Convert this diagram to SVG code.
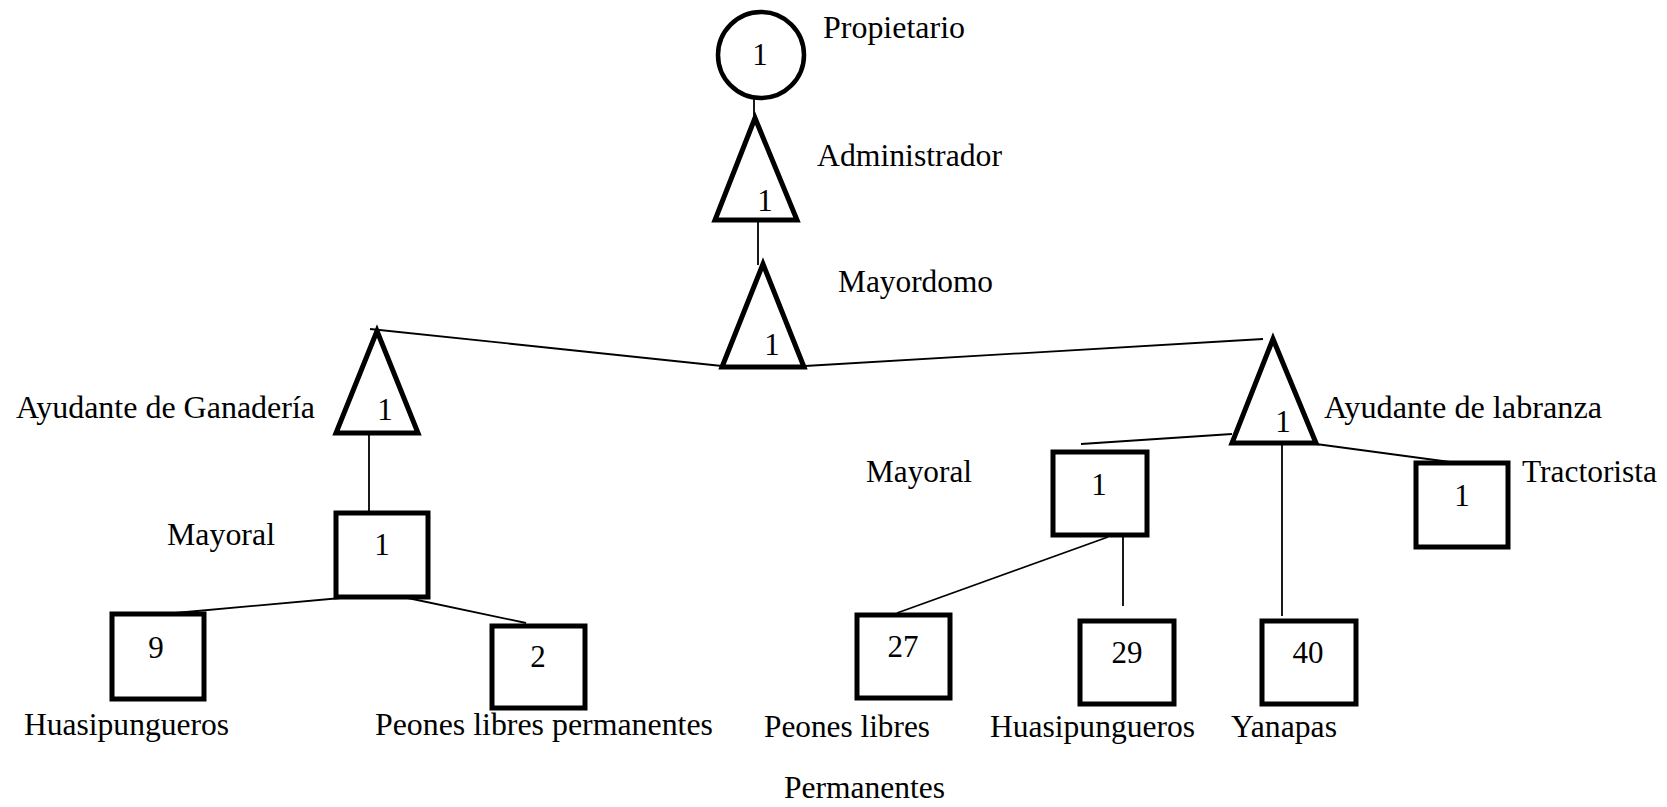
<svg xmlns="http://www.w3.org/2000/svg" width="1667" height="807" viewBox="0 0 1667 807">
<style>
.shape{fill:#fff;stroke:#000;stroke-width:5;stroke-linejoin:miter}
.circ{fill:#fff;stroke:#000;stroke-width:4.5}
.ln{stroke:#000;stroke-width:1.8;fill:none}
.lbl{font-family:"Liberation Serif","Times New Roman",serif;font-size:31px;fill:#000}
.num{font-family:"Liberation Serif","Times New Roman",serif;font-size:31px;fill:#000;text-anchor:middle}
</style>
<rect width="1667" height="807" fill="#fff"/>
<g id="connectors">
<line class="ln" x1="754" y1="99" x2="754" y2="118"/>
<line class="ln" x1="758" y1="220" x2="758" y2="265"/>
<line class="ln" x1="370" y1="329" x2="722" y2="366"/>
<line class="ln" x1="805" y1="366" x2="1263" y2="339"/>
<line class="ln" x1="369" y1="433" x2="369" y2="513"/>
<line class="ln" x1="352" y1="597" x2="175" y2="613"/>
<line class="ln" x1="403" y1="597" x2="526" y2="623"/>
<line class="ln" x1="1232" y1="434" x2="1081" y2="444"/>
<line class="ln" x1="1108" y1="537" x2="897" y2="613"/>
<line class="ln" x1="1123" y1="531" x2="1123" y2="606"/>
<line class="ln" x1="1282" y1="443" x2="1282" y2="616"/>
<line class="ln" x1="1316" y1="444" x2="1450" y2="462"/>
</g>
<g id="propietario">
<circle class="circ" cx="761" cy="55" r="43"/>
<text class="num" x="760" y="65">1</text>
<text class="lbl" x="823" y="38" textLength="142" lengthAdjust="spacingAndGlyphs">Propietario</text>
</g>
<g id="administrador">
<polygon class="shape" points="755,118 715,220 797,220"/>
<text class="num" x="765" y="211">1</text>
<text class="lbl" x="817" y="166" textLength="185" lengthAdjust="spacingAndGlyphs">Administrador</text>
</g>
<g id="mayordomo">
<polygon class="shape" points="763,264 722,367 804,367"/>
<text class="num" x="772" y="355">1</text>
<text class="lbl" x="838" y="292" textLength="155" lengthAdjust="spacingAndGlyphs">Mayordomo</text>
</g>
<g id="ayudante-ganaderia">
<polygon class="shape" points="377,331 336,433 418,433"/>
<text class="num" x="385" y="420">1</text>
<text class="lbl" x="16" y="418" textLength="299" lengthAdjust="spacingAndGlyphs">Ayudante de Ganadería</text>
</g>
<g id="mayoral-ganaderia">
<rect class="shape" x="336" y="513" width="92" height="84"/>
<text class="num" x="382" y="555">1</text>
<text class="lbl" x="167" y="545" textLength="108" lengthAdjust="spacingAndGlyphs">Mayoral</text>
</g>
<g id="huasipungueros-ganaderia">
<rect class="shape" x="112" y="614" width="92" height="85"/>
<text class="num" x="156" y="658">9</text>
<text class="lbl" x="24" y="735" textLength="205" lengthAdjust="spacingAndGlyphs">Huasipungueros</text>
</g>
<g id="peones-ganaderia">
<rect class="shape" x="492" y="626" width="93" height="82"/>
<text class="num" x="538" y="667">2</text>
<text class="lbl" x="375" y="735" textLength="338" lengthAdjust="spacingAndGlyphs">Peones libres permanentes</text>
</g>
<g id="ayudante-labranza">
<polygon class="shape" points="1273,339 1232,443 1316,443"/>
<text class="num" x="1283" y="432">1</text>
<text class="lbl" x="1324" y="418" textLength="278" lengthAdjust="spacingAndGlyphs">Ayudante de labranza</text>
</g>
<g id="mayoral-labranza">
<rect class="shape" x="1053" y="452" width="94" height="83"/>
<text class="num" x="1099" y="495">1</text>
<text class="lbl" x="866" y="482" textLength="106" lengthAdjust="spacingAndGlyphs">Mayoral</text>
</g>
<g id="tractorista">
<rect class="shape" x="1416" y="463" width="92" height="84"/>
<text class="num" x="1462" y="506">1</text>
<text class="lbl" x="1522" y="482" textLength="135" lengthAdjust="spacingAndGlyphs">Tractorista</text>
</g>
<g id="peones-labranza">
<rect class="shape" x="857" y="615" width="93" height="83"/>
<text class="num" x="903" y="657">27</text>
<text class="lbl" x="764" y="737" textLength="166" lengthAdjust="spacingAndGlyphs">Peones libres</text>
<text class="lbl" x="784" y="798" textLength="161" lengthAdjust="spacingAndGlyphs">Permanentes</text>
</g>
<g id="huasipungueros-labranza">
<rect class="shape" x="1080" y="621" width="94" height="83"/>
<text class="num" x="1127" y="663">29</text>
<text class="lbl" x="990" y="737" textLength="205" lengthAdjust="spacingAndGlyphs">Huasipungueros</text>
</g>
<g id="yanapas">
<rect class="shape" x="1262" y="621" width="94" height="83"/>
<text class="num" x="1308" y="663">40</text>
<text class="lbl" x="1231" y="737" textLength="106" lengthAdjust="spacingAndGlyphs">Yanapas</text>
</g>
</svg>
